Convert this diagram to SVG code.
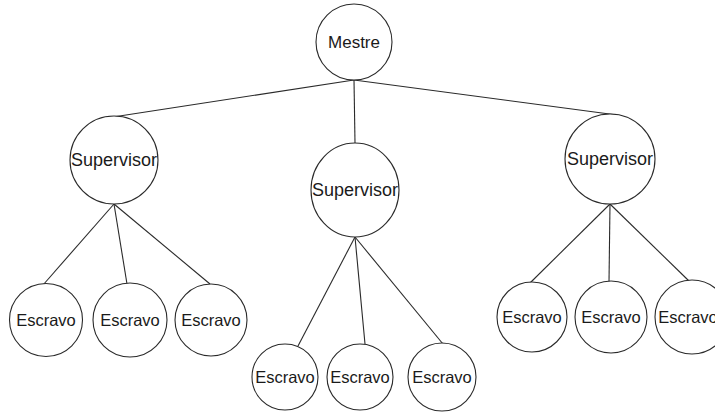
<svg xmlns="http://www.w3.org/2000/svg" width="715" height="414" viewBox="0 0 715 414">
  <style>
    .node { fill: #ffffff; stroke: #2a2a2a; stroke-width: 1.1; }
    .edge { stroke: #2a2a2a; stroke-width: 1.1; fill: none; }
    text { font-family: "Liberation Sans", Arial, sans-serif; fill: #1a1a1a; text-anchor: middle; }
    .m { font-size: 17px; }
    .s { font-size: 18px; }
    .e { font-size: 16.5px; }
  </style>
  <rect width="715" height="414" fill="#ffffff"/>

  <g id="connectors">
    <line class="edge" x1="354" y1="80" x2="113" y2="117"/>
    <line class="edge" x1="354" y1="80" x2="355" y2="143"/>
    <line class="edge" x1="354" y1="80" x2="617" y2="115"/>

    <line class="edge" x1="114" y1="204" x2="43" y2="285"/>
    <line class="edge" x1="114" y1="204" x2="127" y2="284"/>
    <line class="edge" x1="114" y1="204" x2="210" y2="284"/>

    <line class="edge" x1="355" y1="237" x2="298" y2="346"/>
    <line class="edge" x1="355" y1="237" x2="365" y2="344"/>
    <line class="edge" x1="355" y1="237" x2="443" y2="344"/>

    <line class="edge" x1="610" y1="204" x2="530" y2="283"/>
    <line class="edge" x1="610" y1="204" x2="609" y2="282"/>
    <line class="edge" x1="610" y1="204" x2="689" y2="281"/>
  </g>

  <g id="mestre">
    <circle class="node" cx="354" cy="42" r="38"/>
    <text class="m" x="354" y="48">Mestre</text>
  </g>

  <g id="supervisor-left">
    <circle class="node" cx="114" cy="160" r="44"/>
    <text class="s" x="114" y="166">Supervisor</text>
  </g>
  <g id="supervisor-center">
    <ellipse class="node" cx="355" cy="190" rx="44" ry="47"/>
    <text class="s" x="355" y="196">Supervisor</text>
  </g>
  <g id="supervisor-right">
    <circle class="node" cx="610" cy="159" r="45"/>
    <text class="s" x="610" y="165">Supervisor</text>
  </g>

  <g id="escravo-l1">
    <circle class="node" cx="46" cy="320" r="36.5"/>
    <text class="e" x="46" y="326">Escravo</text>
  </g>
  <g id="escravo-l2">
    <circle class="node" cx="130" cy="320" r="37"/>
    <text class="e" x="130" y="326">Escravo</text>
  </g>
  <g id="escravo-l3">
    <circle class="node" cx="211" cy="320" r="36"/>
    <text class="e" x="211" y="326">Escravo</text>
  </g>

  <g id="escravo-c1">
    <circle class="node" cx="285" cy="377" r="33"/>
    <text class="e" x="285" y="383">Escravo</text>
  </g>
  <g id="escravo-c2">
    <circle class="node" cx="360" cy="377" r="33"/>
    <text class="e" x="360" y="383">Escravo</text>
  </g>
  <g id="escravo-c3">
    <circle class="node" cx="442" cy="377" r="34"/>
    <text class="e" x="442" y="383">Escravo</text>
  </g>

  <g id="escravo-r1">
    <circle class="node" cx="532" cy="317" r="35"/>
    <text class="e" x="532" y="323">Escravo</text>
  </g>
  <g id="escravo-r2">
    <circle class="node" cx="611" cy="317" r="36"/>
    <text class="e" x="611" y="323">Escravo</text>
  </g>
  <g id="escravo-r3">
    <circle class="node" cx="692" cy="317" r="37"/>
    <text class="e" x="688" y="323">Escravo</text>
  </g>
</svg>
